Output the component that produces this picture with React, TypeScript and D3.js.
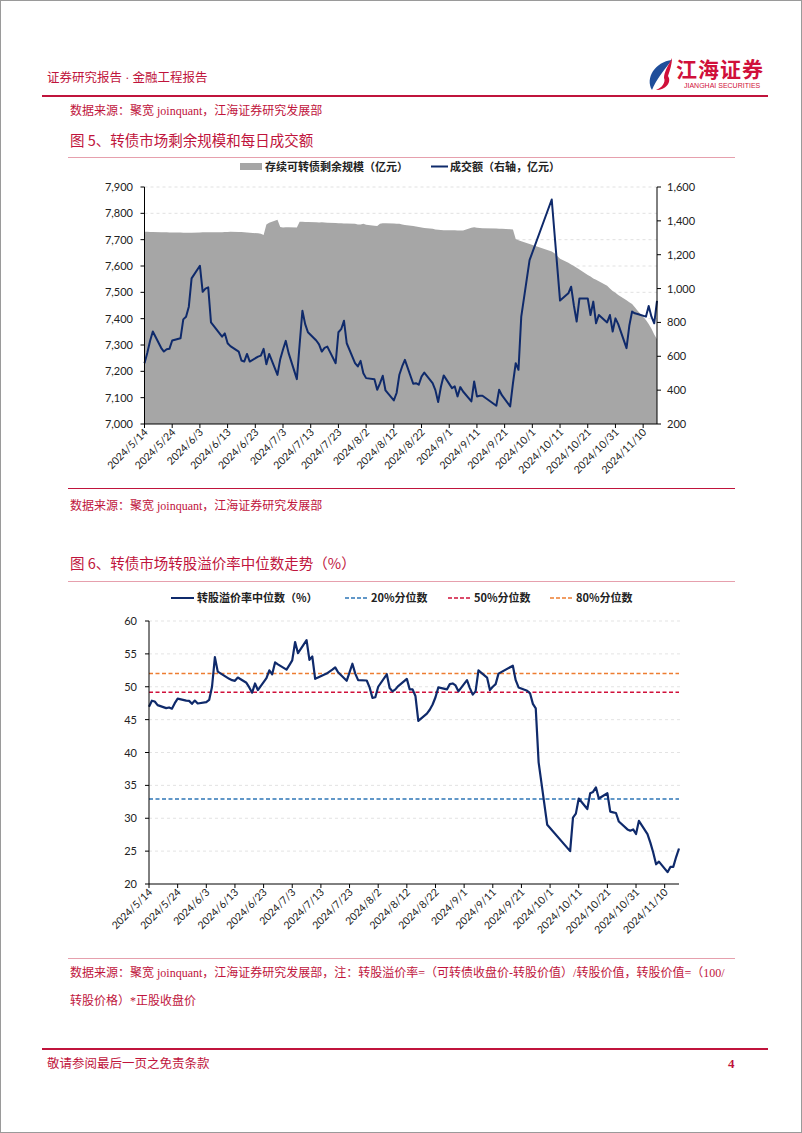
import React from 'react';
import * as d3 from 'd3';

// ---------------- DATA ----------------
const tradeDates = [
  '5/14','5/15','5/16','5/17','5/20','5/21','5/22','5/23','5/24','5/27','5/28','5/29','5/30','5/31',
  '6/3','6/4','6/5','6/6','6/7','6/11','6/12','6/13','6/14','6/17','6/18','6/19','6/20','6/21','6/24','6/25','6/26','6/27','6/28',
  '7/1','7/2','7/3','7/4','7/5','7/8','7/9','7/10','7/11','7/12','7/15','7/16','7/17','7/18','7/19','7/22','7/23','7/24','7/25','7/26','7/29','7/30','7/31',
  '8/1','8/2','8/5','8/6','8/7','8/8','8/9','8/12','8/13','8/14','8/15','8/16','8/19','8/20','8/21','8/22','8/23','8/26','8/27','8/28','8/29','8/30',
  '9/2','9/3','9/4','9/5','9/6','9/9','9/10','9/11','9/12','9/13','9/18','9/19','9/20','9/23','9/24','9/25','9/26','9/27','9/30',
  '10/8','10/9','10/10','10/11','10/14','10/15','10/16','10/17','10/18','10/21','10/22','10/23','10/24','10/25','10/28','10/29','10/30','10/31',
  '11/1','11/4','11/5','11/6','11/7','11/8','11/11','11/12','11/13','11/14','11/15'
];

// 存续可转债剩余规模（亿元）
const outstanding = [
  7730,7730,7729,7729,7728,7728,7728,7727,7727,7727,7726,7726,7726,7726,
  7727,7728,7728,7728,7728,7728,7729,7729,7730,7729,7729,7728,7727,7726,7724,7722,7718,7758,7764,
  7776,7748,7746,7747,7747,7746,7768,7768,7767,7767,7766,7765,7766,7765,7764,7763,7762,7762,7761,7761,7760,7758,7758,
  7760,7757,7753,7752,7760,7762,7762,7761,7760,7760,7758,7756,7752,7750,7748,7746,7744,7741,7739,7738,7737,7736,
  7736,7736,7735,7735,7735,7745,7747,7745,7744,7743,7742,7741,7741,7740,7739,7703,7698,7694,7684,
  7655,7648,7638,7628,7612,7606,7600,7593,7587,7566,7560,7553,7548,7542,7525,7515,7505,7498,
  7490,7470,7462,7456,7443,7430,7395,7380,7362,7340,7322
];

// 成交额（右轴，亿元）
const turnover = [
  559,620,690,746,650,628,642,644,693,706,818,834,893,1060,
  1135,981,1000,1007,800,716,735,677,660,628,575,569,614,569,598,604,644,553,614,
  490,583,640,691,620,465,670,869,790,742,693,670,628,650,657,559,742,760,810,677,560,540,573,
  500,471,465,402,440,485,398,339,383,491,540,579,438,441,432,480,504,441,400,330,420,487,
  412,422,363,418,392,333,451,363,367,367,308,402,370,304,440,559,520,834,1168,
  1526,1327,1128,929,972,1011,900,805,942,942,844,923,795,844,800,844,746,824,
  790,648,780,864,854,850,834,897,834,795,927
];

// 转股溢价率中位数（%）
const premium = [
  46.97,47.88,47.75,47.2,46.75,46.85,46.67,47.5,48.2,47.9,47.85,47.4,47.9,47.45,
  47.65,48.0,50.0,54.5,52.3,51.2,51.0,50.9,51.4,50.6,49.9,49.1,50.5,49.5,51.3,52.5,51.9,53.7,53.4,
  52.6,53.3,54.0,56.8,55.1,57.1,54.1,54.6,51.2,51.4,52.0,52.3,52.6,52.95,52.2,50.9,52.2,53.5,52.0,51.0,50.95,49.9,48.3,
  48.4,50.0,51.9,49.8,49.3,49.6,50.1,51.2,49.6,49.6,48.6,44.8,45.9,46.5,47.3,48.4,49.9,49.6,50.4,50.5,50.2,49.3,
  51.0,49.8,48.8,49.3,52.5,51.4,49.5,50.0,50.4,52.0,53.2,51.0,49.9,49.4,49.0,47.4,46.7,38.5,29.0,
  25.0,30.1,30.7,33.0,31.4,33.8,34.0,34.7,33.0,33.8,31.0,30.9,30.8,29.5,28.3,28.1,28.3,27.6,
  29.6,27.6,26.3,24.8,23.0,23.4,21.8,22.6,22.6,24.1,25.4
];

const quantiles = [
  { name: '20%分位数', value: 32.93, color: '#2e75b6' },
  { name: '50%分位数', value: 49.15, color: '#d0103a' },
  { name: '80%分位数', value: 52.0, color: '#ed7d31' }
];

const tickLabels = [
  '2024/5/14','2024/5/24','2024/6/3','2024/6/13','2024/6/23','2024/7/3','2024/7/13','2024/7/23',
  '2024/8/2','2024/8/12','2024/8/22','2024/9/1','2024/9/11','2024/9/21','2024/10/1','2024/10/11',
  '2024/10/21','2024/10/31','2024/11/10'
];

const leftTicks1 = [7000, 7100, 7200, 7300, 7400, 7500, 7600, 7700, 7800, 7900];
const rightTicks1 = [200, 400, 600, 800, 1000, 1200, 1400, 1600];
const yTicks2 = [20, 25, 30, 35, 40, 45, 50, 55, 60];

// ---------------- HELPERS ----------------
const parseTick = d3.timeParse('%Y/%m/%d');
const dateObjs = tradeDates.map((s) => parseTick('2024/' + s) as Date);
const tickDates = tickLabels.map((s) => parseTick(s) as Date);
const domainX: [Date, Date] = [dateObjs[0], dateObjs[dateObjs.length - 1]];

const RED = '#c0143c';
const CN = "'Noto Sans CJK SC', sans-serif";
const SERIF = "'Liberation Serif', 'Noto Sans CJK SC', serif";
const AX = "Lato, 'Open Sans', sans-serif";
const fmt = d3.format(',');

function XAxis({ x, y0, x0, x1 }: { x: d3.ScaleTime<number, number>; y0: number; x0: number; x1: number }) {
  return (
    <g>
      <line x1={x0} x2={x1} y1={y0} y2={y0} stroke="#000" strokeWidth={1} />
      {tickDates.map((d, i) => {
        const px = x(d);
        return (
          <g key={i}>
            <line x1={px} x2={px} y1={y0} y2={y0 + 4} stroke="#000" strokeWidth={1} />
            <text
              transform={`translate(${px + 4},${y0 + 9}) rotate(-45)`}
              textAnchor="end"
              fontFamily={AX}
              fontSize={10.5}
              fill="#222"
            >
              {tickLabels[i]}
            </text>
          </g>
        );
      })}
    </g>
  );
}

function Chart1() {
  const x0 = 144.5, x1 = 657, yTop = 187, yBot = 424;
  const x = d3.scaleTime().domain(domainX).range([x0, x1]);
  const yL = d3.scaleLinear().domain([7000, 7900]).range([yBot, yTop]);
  const yR = d3.scaleLinear().domain([200, 1600]).range([yBot, yTop]);
  const area = d3
    .area<number>()
    .x((_, i) => x(dateObjs[i]))
    .y0(yL(7000))
    .y1((d) => yL(d));
  const line = d3
    .line<number>()
    .x((_, i) => x(dateObjs[i]))
    .y((d) => yR(d));
  return (
    <g>
      {/* legend */}
      <rect x={240} y={163} width={22} height={7} fill="#a6a6a6" />
      <text x={265} y={171} fontFamily={CN} fontSize={11} fontWeight={700} fill="#222">
        存续可转债剩余规模（亿元）
      </text>
      <line x1={431} x2={448} y1={166.5} y2={166.5} stroke="#0f2a6b" strokeWidth={2} />
      <text x={450} y={171} fontFamily={CN} fontSize={11} fontWeight={700} fill="#222">
        成交额（右轴，亿元）
      </text>
      {/* gridlines */}
      {leftTicks1.slice(1).map((t) => (
        <line key={t} x1={x0} x2={x1} y1={yL(t)} y2={yL(t)} stroke="#d9d9d9" strokeWidth={0.8} strokeDasharray="3,3" />
      ))}
      <path d={area(outstanding) || ''} fill="#a6a6a6" />
      <path d={line(turnover) || ''} fill="none" stroke="#0f2a6b" strokeWidth={2} strokeLinejoin="round" />
      {/* left axis */}
      <line x1={x0} x2={x0} y1={yTop} y2={yBot} stroke="#000" />
      {leftTicks1.map((t) => (
        <g key={t}>
          <line x1={x0 - 4} x2={x0} y1={yL(t)} y2={yL(t)} stroke="#000" />
          <text x={133} y={yL(t) + 4} textAnchor="end" fontFamily={AX} fontSize={11} fill="#222">
            {fmt(t)}
          </text>
        </g>
      ))}
      {/* right axis */}
      <line x1={x1} x2={x1} y1={yTop} y2={yBot} stroke="#000" />
      {rightTicks1.map((t) => (
        <g key={t}>
          <line x1={x1} x2={x1 + 4} y1={yR(t)} y2={yR(t)} stroke="#000" />
          <text x={667} y={yR(t) + 4} textAnchor="start" fontFamily={AX} fontSize={11} fill="#222">
            {fmt(t)}
          </text>
        </g>
      ))}
      <XAxis x={x} y0={yBot} x0={x0} x1={x1} />
    </g>
  );
}

function Chart2() {
  const x0 = 149, x1 = 679, yTop = 621, yBot = 884;
  const x = d3.scaleTime().domain(domainX).range([x0, x1]);
  const y = d3.scaleLinear().domain([20, 60]).range([yBot, yTop]);
  const line = d3
    .line<number>()
    .x((_, i) => x(dateObjs[i]))
    .y((d) => y(d));
  const legendY = 598;
  return (
    <g>
      {/* legend */}
      <line x1={171} x2={194} y1={legendY} y2={legendY} stroke="#0f2a6b" strokeWidth={2} />
      <text x={197} y={legendY + 4} fontFamily={CN} fontSize={11} fontWeight={700} fill="#222">
        转股溢价率中位数（%）
      </text>
      {quantiles.map((q, i) => {
        const lx = [345, 448, 550][i];
        return (
          <g key={q.name}>
            <line x1={lx} x2={lx + 24} y1={legendY} y2={legendY} stroke={q.color} strokeWidth={1.5} strokeDasharray="4,2" />
            <text x={lx + 26} y={legendY + 4} fontFamily={CN} fontSize={11} fontWeight={700} fill="#222">
              {q.name}
            </text>
          </g>
        );
      })}
      {/* gridlines */}
      {yTicks2.slice(1).map((t) => (
        <line key={t} x1={x0} x2={x1 + 1} y1={y(t)} y2={y(t)} stroke="#dcdcdc" strokeWidth={0.8} strokeDasharray="3,3" />
      ))}
      {quantiles.map((q) => (
        <line key={q.name} x1={x0} x2={x1} y1={y(q.value)} y2={y(q.value)} stroke={q.color} strokeWidth={1.5} strokeDasharray="4,2.5" />
      ))}
      <path d={line(premium) || ''} fill="none" stroke="#0f2a6b" strokeWidth={2.2} strokeLinejoin="round" />
      <line x1={x0} x2={x0} y1={yTop} y2={yBot} stroke="#000" />
      {yTicks2.map((t) => (
        <g key={t}>
          <line x1={x0 - 4} x2={x0} y1={y(t)} y2={y(t)} stroke="#000" />
          <text x={137} y={y(t) + 4} textAnchor="end" fontFamily={AX} fontSize={11} fill="#222">
            {t}
          </text>
        </g>
      ))}
      <XAxis x={x} y0={yBot} x0={x0} x1={x1} />
    </g>
  );
}

function Logo() {
  return (
    <g>
      <path d="M672,60 C655,62 645,78 652,90 C656,80 664,70 672,60 Z" fill="#1f4e9a" />
      <path d="M672,58 C668,66 664,72 664,78 C666,82 662,88 656,90 C666,90 672,82 668,76 C670,70 672,64 672,58 Z" fill="#d0103a" />
      <text x={676} y={77} fontFamily={CN} fontSize={21} fontWeight={700} fill="#d0103a" letterSpacing={1}>
        江海证券
      </text>
      <text x={684} y={88} fontFamily="'Liberation Sans', sans-serif" fontSize={7} fill="#d0103a">
        JIANGHAI SECURITIES
      </text>
    </g>
  );
}

export default function App() {
  return (
    <div style={{ position: 'absolute', left: 0, top: 0 }}>
      <svg width={802} height={1133} viewBox="0 0 802 1133" style={{ display: 'block', background: '#fff' }}>
        <rect x={0.5} y={0.5} width={801} height={1132} fill="#fff" stroke="#9a9a9a" strokeWidth={1} />
        {/* header */}
        <text x={47} y={82} fontFamily={SERIF} fontSize={12.5} fill={RED}>
          证券研究报告 · 金融工程报告
        </text>
        <Logo />
        <line x1={42} x2={768} y1={96} y2={96} stroke={RED} strokeWidth={2} />
        <text x={70} y={115} fontFamily={SERIF} fontSize={12} fill={RED}>
          数据来源：聚宽 joinquant，江海证券研究发展部
        </text>
        <text x={70} y={146} fontFamily={CN} fontSize={14.5} fill={RED}>
          图 5、转债市场剩余规模和每日成交额
        </text>
        <line x1={68} x2={735} y1={157.5} y2={157.5} stroke="#e6a0ad" strokeWidth={1} />
        <Chart1 />
        <line x1={68} x2={735} y1={488.5} y2={488.5} stroke={RED} strokeWidth={1.2} />
        <text x={70} y={510} fontFamily={SERIF} fontSize={12} fill={RED}>
          数据来源：聚宽 joinquant，江海证券研究发展部
        </text>
        <text x={70} y={569} fontFamily={CN} fontSize={14.5} fill={RED}>
          图 6、转债市场转股溢价率中位数走势（%）
        </text>
        <line x1={68} x2={735} y1={581.5} y2={581.5} stroke="#e6a0ad" strokeWidth={1} />
        <Chart2 />
        <line x1={68} x2={735} y1={958.5} y2={958.5} stroke="#e6a0ad" strokeWidth={1} />
        <text x={70} y={977} fontFamily={SERIF} fontSize={12} fill={RED}>
          数据来源：聚宽 joinquant，江海证券研究发展部，注：转股溢价率=（可转债收盘价-转股价值）/转股价值，转股价值=（100/
        </text>
        <text x={70} y={1005} fontFamily={SERIF} fontSize={12} fill={RED}>
          转股价格）*正股收盘价
        </text>
        <line x1={42} x2={768} y1={1049} y2={1049} stroke={RED} strokeWidth={2} />
        <text x={47} y={1068} fontFamily={SERIF} fontSize={12.5} fill={RED}>
          敬请参阅最后一页之免责条款
        </text>
        <text x={728} y={1068} fontFamily={SERIF} fontSize={13} fontWeight={700} fill={RED}>
          4
        </text>
      </svg>
    </div>
  );
}
